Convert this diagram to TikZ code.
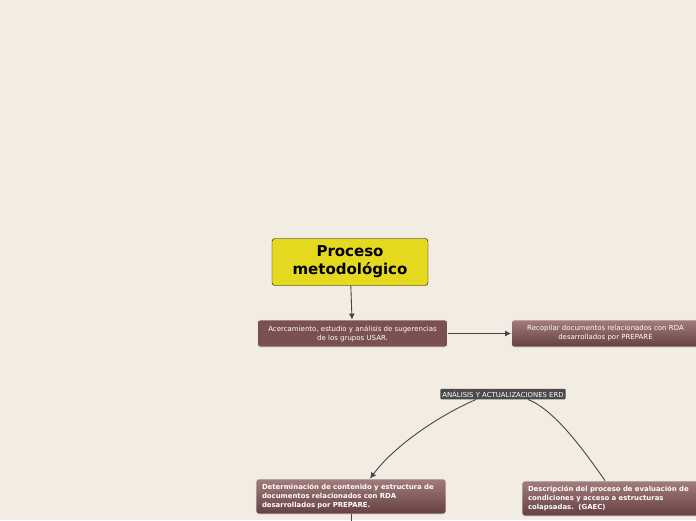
\documentclass[tikz,border=0pt]{standalone}
\usepackage{fontspec}
\setmainfont{DejaVu Sans}
\usetikzlibrary{positioning}
\usetikzlibrary{arrows.meta}
\definecolor{paper}{RGB}{243,236,226}
\definecolor{mustard}{RGB}{229,217,32}
\definecolor{wine}{RGB}{122,80,80}
\definecolor{winetop}{RGB}{163,124,124}
\definecolor{winebot}{RGB}{101,64,64}
\definecolor{slate}{RGB}{74,74,74}
\definecolor{wire}{RGB}{70,70,70}
\tikzset{
	central/.style={
		draw=black, fill=mustard,
		rounded corners=3pt,
		minimum width=156pt, minimum height=47pt,
		align=center,
		font=\fontsize{15}{18}\selectfont\bfseries},
	topic/.style={
		draw=white!85!gray, line width=0.8pt,
		rounded corners=2.5pt,
		text=white, align=center,
		font=\fontsize{7}{9}\selectfont},
	subtopic/.style={
		topic,
		top color=winetop, bottom color=winebot,
		inner xsep=6pt,
		align=left, font=\fontsize{6.9}{9}\selectfont\bfseries},
	tag/.style={
		fill=slate, text=white,
		rounded corners=1pt, inner sep=2pt,
		font=\fontsize{6.9}{7}\selectfont},
	link/.style={
		draw=wire, line width=0.9pt,
		-{Latex[length=6pt,width=6pt]}}
}

\begin{document}
\begin{tikzpicture}[x=1pt,y=-1pt]
	\fill[paper] (0,0) rectangle (696,520);
	\useasboundingbox (0,0) rectangle (696,520);
	\node[central] (proc) at (350,262) {Proceso\\metodológico};
	\node[topic, fill=wine, minimum width=190pt, minimum height=27pt] (acerc) at (352.5,333.5)
		{Acercamiento, estudio y análisis de sugerencias\\de los grupos USAR.};
	\node[topic, top color=winetop, bottom color=winebot, minimum width=188pt, minimum height=27pt,
		right of=acerc, node distance=253pt] (recop)
		{Recopilar documentos relacionados con RDA\\desarrollados por PREPARE};
	\node[tag] (erd) at (503,394) {ANÁLISIS Y ACTUALIZACIONES ERD};
	\node[subtopic, minimum width=190pt, minimum height=35pt, text width=178pt] (deter) at (351,496.5)
		{Determinación de contenido y estructura de\\documentos relacionados con RDA\\desarrollados por PREPARE.};
	\node[subtopic, minimum width=180pt, minimum height=35pt, text width=168pt] (descr) at (612,498.5)
		{Descripción del proceso de evaluación de\\condiciones y acceso a estructuras\\colapsadas.\ \ (GAEC)};
	\coordinate (down) at (351,525);
	\draw[link] (proc) -- (acerc);
	\draw[link] (acerc) -- (recop);
	\draw[link] ([xshift=-27pt]erd.south) .. controls (440,415) and (395,445) .. ([xshift=19pt]deter.north);
	\draw[draw=wire, line width=0.9pt] ([xshift=25pt]erd.south) .. controls (555,410) and (585,452) .. ([xshift=-7pt]descr.north);
	\draw[draw=wire, line width=0.9pt] (deter.south) -- (down);
\end{tikzpicture}
\end{document}
